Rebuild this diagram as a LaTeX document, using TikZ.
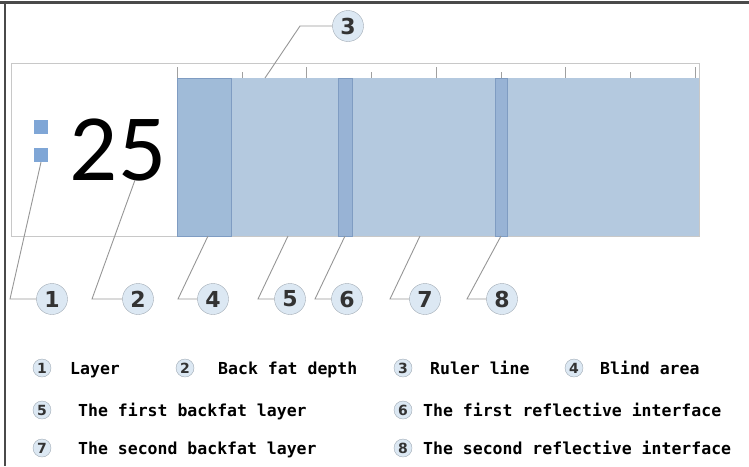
\documentclass[tikz,border=0pt]{standalone}
\usepackage{fontspec}
\setmainfont{Carlito}
\newfontfamily\legendfont{DejaVu Sans Mono}
\newfontfamily\calloutfont{DejaVu Sans}
\usetikzlibrary{positioning}

\definecolor{layerblue}{HTML}{B4C9DF}
\definecolor{blindblue}{HTML}{A0BBD8}
\definecolor{ifaceblue}{HTML}{98B3D5}
\definecolor{edgeblue}{HTML}{7F9CC2}
\definecolor{markblue}{HTML}{7FA6D6}
\definecolor{calloutfill}{HTML}{DCE8F3}
\definecolor{calloutgray}{HTML}{A0AAB4}
\definecolor{leadergray}{HTML}{969696}
\definecolor{panelgray}{HTML}{C8C8C8}
\definecolor{framegray}{HTML}{4A4A4A}

\begin{document}
\begin{tikzpicture}[x=1pt, y=-1pt,
    callout/.style={circle, draw=calloutgray, fill=calloutfill, minimum size=31pt, inner sep=0pt, font=\calloutfont\bfseries\fontsize{22}{22}\selectfont, text=black!80},
    keynum/.style={circle, draw=calloutgray, fill=calloutfill, minimum size=18pt, inner sep=0pt, font=\calloutfont\bfseries\fontsize{14}{14}\selectfont, text=black!80},
    keytext/.style={anchor=base west, inner sep=0pt, font=\legendfont\bfseries\fontsize{16.5}{18}\selectfont},
    marker/.style={rectangle, fill=markblue, minimum size=14pt, inner sep=0pt},
    leader/.style={draw=leadergray, line width=0.9pt}
]
\useasboundingbox (0,0) rectangle (749,466);

% Frame
\draw[framegray, line width=3pt] (0,2) -- (749,2);
\draw[framegray, line width=2pt] (5,2) -- (5,466);

% Panel and ruler
\draw[panelgray, fill=white] (11,63) rectangle (699,236);
\fill[layerblue] (177,78) rectangle (699,236);
\foreach \i in {0,...,8} {
  \pgfmathsetmacro{\tx}{177+64.75*\i}
  \ifodd\i
    \draw[panelgray!80!black] (\tx,72) -- (\tx,78);
  \else
    \draw[panelgray!80!black] (\tx,67) -- (\tx,78);
  \fi
}

% Blind area and interfaces
\draw[edgeblue, fill=blindblue] (177,78) rectangle (231,236);
\draw[edgeblue, fill=ifaceblue] (338,78) rectangle (352,236);
\draw[edgeblue, fill=ifaceblue] (495,78) rectangle (507,236);

% Layer markers and depth
\node[marker] (sq1) at (41,127) {};
\node[marker] (sq2) at (41,155) {};
\node[font=\fontsize{95}{95}\selectfont, inner sep=0pt] (depth) at (118,150) {25};

% Leader targets
\coordinate (depthfoot) at (135,180);
\coordinate (ruler) at (265,78);
\coordinate (blind) at (208,236);
\coordinate (fat1) at (288,236);
\coordinate (iface1) at (345,236);
\coordinate (fat2) at (420,236);
\coordinate (iface2) at (501,236);

% Callouts
\node[callout] (c1) at (52,299) {1};
\node[callout] (c2) at (138,299) {2};
\node[callout] (c3) at (348,26) {3};
\node[callout] (c4) at (213,299) {4};
\node[callout] (c5) at (290,299) {5};
\node[callout] (c6) at (347,299) {6};
\node[callout] (c7) at (425,299) {7};
\node[callout] (c8) at (502,299) {8};

% Leaders
\draw[leader] (c1.west) -- (10,299) -- (sq2.south);
\draw[leader] (c2.west) -- (92,299) -- (depthfoot);
\draw[leader] (c3.west) -- (300,26) -- (ruler);
\draw[leader] (c4.west) -- (178,299) -- (blind);
\draw[leader] (c5.west) -- (258,299) -- (fat1);
\draw[leader] (c6.west) -- (315,299) -- (iface1);
\draw[leader] (c7.west) -- (390,299) -- (fat2);
\draw[leader] (c8.west) -- (467,299) -- (iface2);

% Legend
\node[keynum] (k1) at (42,368) {1};
\node[keytext] (t1) at (70,374) {Layer};
\node[keynum] (k2) at (185,368) {2};
\node[keytext] (t2) at (218,374) {Back fat depth};
\node[keynum] (k3) at (403,368) {3};
\node[keytext] (t3) at (430,374) {Ruler line};
\node[keynum] (k4) at (574,368) {4};
\node[keytext] (t4) at (600,374) {Blind area};
\node[keynum] (k5) at (42,410) {5};
\node[keytext] (t5) at (78,416) {The first backfat layer};
\node[keynum] (k6) at (403,410) {6};
\node[keytext] (t6) at (423,416) {The first reflective interface};
\node[keynum] (k7) at (42,448) {7};
\node[keytext] (t7) at (78,454) {The second backfat layer};
\node[keynum] (k8) at (403,448) {8};
\node[keytext] (t8) at (423,454) {The second reflective interface};

\end{tikzpicture}
\end{document}
